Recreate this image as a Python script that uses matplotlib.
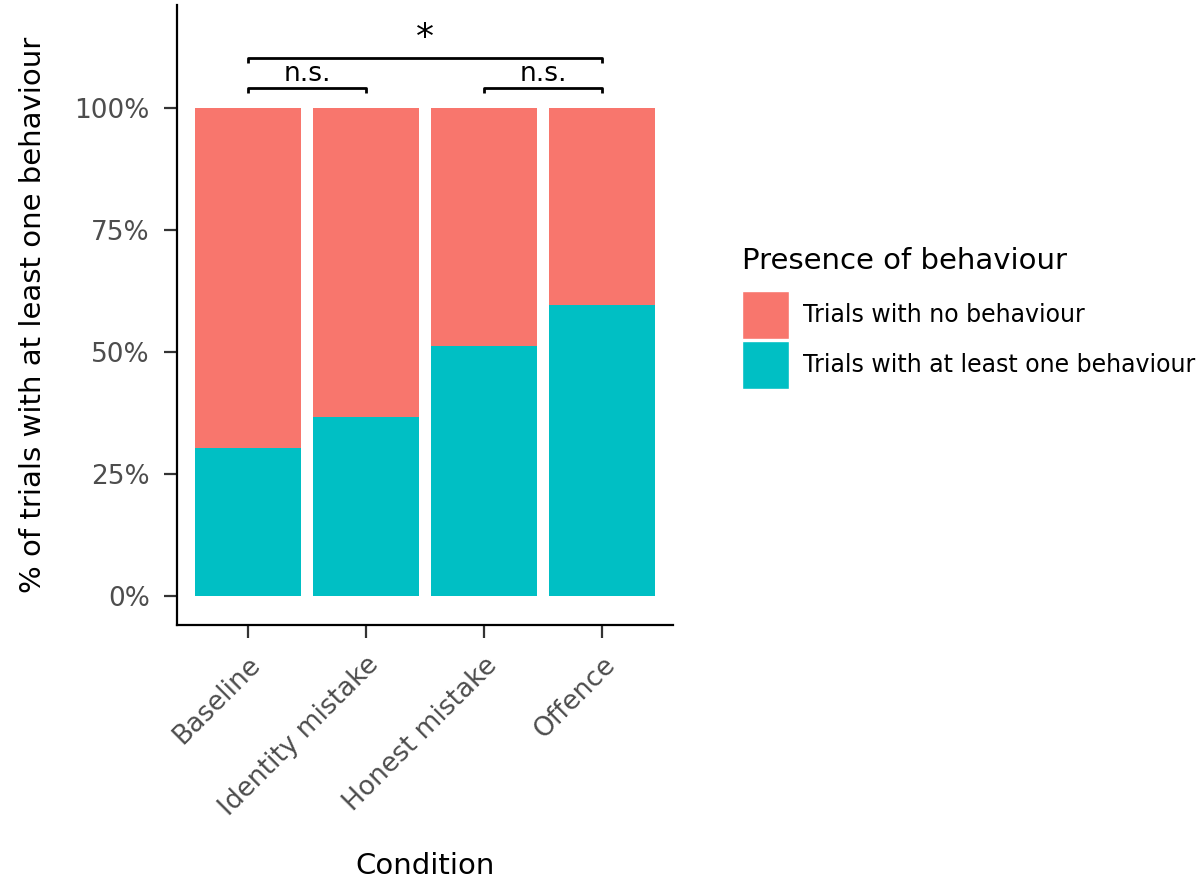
import matplotlib.pyplot as plt
from matplotlib.patches import Patch
from matplotlib.ticker import PercentFormatter
import numpy as np

# Share of trials with at least one behaviour, per condition
conditions = ["Baseline", "Identity mistake", "Honest mistake", "Offence"]
with_behaviour = [0.303, 0.366, 0.511, 0.595]
series_labels = ["Trials with no behaviour", "Trials with at least one behaviour"]
colors = ["#F8766D", "#00BFC4"]

# pairwise comparisons: (left condition, right condition, height, label)
comparisons = [
    (0, 1, 1.039, "n.s."),
    (2, 3, 1.039, "n.s."),
    (0, 3, 1.102, "*"),
]


def main():
    fig = plt.figure(figsize=(12.02, 8.8), dpi=100)
    ax = fig.add_axes([0.1473, 0.2898, 0.4126, 0.7045])

    x = np.arange(len(conditions))
    yes = np.array(with_behaviour)
    no = 1 - yes
    ax.bar(x, yes, width=0.9, color=colors[1])
    ax.bar(x, no, width=0.9, bottom=yes, color=colors[0])

    # significance brackets
    for i, j, h, lab in comparisons:
        ax.plot([x[i], x[i], x[j], x[j]], [h - 0.01, h, h, h - 0.01],
                color="black", lw=2, solid_capstyle="butt")
        if lab == "*":
            ax.text((x[i] + x[j]) / 2, h + 0.006, lab, ha="center",
                    va="bottom", fontsize=26)
        else:
            ax.text((x[i] + x[j]) / 2, h + 0.004, lab, ha="center",
                    va="bottom", fontsize=19)

    ax.set_xlim(-0.6, 3.6)
    ax.set_ylim(-0.06, 1.21)
    ax.set_yticks([0, 0.25, 0.5, 0.75, 1.0])
    ax.yaxis.set_major_formatter(PercentFormatter(1.0, decimals=0))
    ax.set_xticks(x)
    ax.set_xticklabels(conditions, rotation=45, ha="right",
                       rotation_mode="anchor")

    for side in ["top", "right"]:
        ax.spines[side].set_visible(False)
    for side in ["left", "bottom"]:
        ax.spines[side].set_linewidth(1.6)
        ax.spines[side].set_color("black")
    ax.tick_params(axis="both", length=9.5, width=1.6, color="#333333",
                   labelcolor="#4D4D4D", labelsize=19)
    ax.tick_params(axis="x", pad=10)
    ax.tick_params(axis="y", pad=10)

    ax.set_xlabel("Condition", fontsize=21, labelpad=22)
    ax.set_ylabel("% of trials with at least one behaviour", fontsize=21,
                  labelpad=20)

    handles = [Patch(facecolor=colors[0], edgecolor="white"),
               Patch(facecolor=colors[1], edgecolor="white")]
    leg = fig.legend(handles, series_labels, loc="upper left",
                     bbox_to_anchor=(0.617, 0.719), frameon=False,
                     fontsize=17, title="Presence of behaviour",
                     title_fontsize=21, handlelength=2.0, handleheight=2.75,
                     labelspacing=0.12, handletextpad=0.6, borderpad=0,
                     borderaxespad=0)
    leg._legend_box.align = "left"
    # extra room between the legend title and the keys
    leg._legend_box.sep = 11

    fig.savefig("out.png", dpi=100)


if __name__ == "__main__":
    main()
